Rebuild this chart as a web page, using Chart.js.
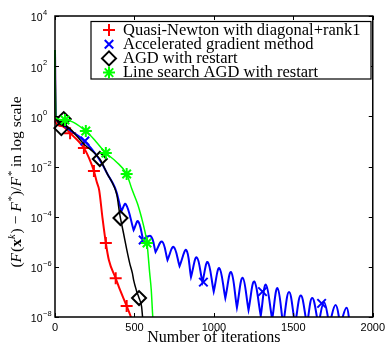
<!DOCTYPE html>
<html>
<head>
<meta charset="utf-8">
<script src="https://cdn.jsdelivr.net/npm/chart.js@4.4.1/dist/chart.umd.min.js"></script>
<style>
  html, body { margin: 0; padding: 0; background: #fff; }
  #wrap { width: 389px; height: 348px; }
</style>
</head>
<body>
<div id="wrap"><canvas id="chart" width="389" height="348"></canvas></div>
<script>
// axis ticks
const xTicks = [0, 500, 1000, 1500, 2000];
const yTicks = [1e-8, 1e-6, 1e-4, 1e-2, 1, 1e2, 1e4];
const yTickExp = ['-8', '-6', '-4', '-2', '0', '2', '4'];

const seriesNames = [
  'Quasi-Newton with diagonal+rank1',
  'Accelerated gradient method',
  'AGD with restart',
  'Line search AGD with restart'
];

// Quasi-Newton with diagonal+rank1 (red)
const qnIter = [0, 3, 40, 100, 182, 215, 245, 263, 278, 299, 320, 339, 382, 410, 451, 480, 490];
const qnVal = [440, 0.59, 0.41, 0.2, 0.0546, 0.021, 6.6e-3, 2.4e-3, 1.15e-3, 8.8e-5, 8.9e-6, 1.86e-6, 3.5e-7, 1.17e-7, 2.75e-8, 9e-9, 5e-9];
const qnMarkIter = [95, 182, 245, 320, 382, 451];
const qnMarkVal = [0.21, 0.0546, 6.6e-3, 8.9e-6, 3.5e-7, 2.75e-8];

// Accelerated gradient method (blue): smooth start, then cusps (dips) and arches (peaks)
const agIter = [0, 5, 50, 188, 282, 330, 378, 408];
const agVal = [440, 0.86, 0.45, 0.1, 0.018, 5e-3, 1.4e-3, 2.9e-4];
const agDipIter = [417, 495, 555, 633, 708, 784, 856, 928, 999, 1072, 1145, 1218, 1295, 1367, 1436, 1511, 1586, 1658, 1727, 1796, 1856];
const agDipVal = [1.6e-4, 2.9e-5, 1.17e-5, 3.9e-6, 1.86e-6, 1.07e-6, 3.9e-7, 2.46e-7, 1.03e-7, 5.7e-8, 2.4e-8, 1.9e-8, 1.12e-8, 8e-9, 5e-9, 5e-9, 5e-9, 5e-9, 5e-9, 5e-9, 5e-9];
const agPeakIter = [445, 523, 602, 674, 746, 826, 892, 961, 1034, 1108, 1181, 1254, 1327, 1400, 1473, 1547, 1619, 1693, 1766, 1835];
const agPeakVal = [3.2e-4, 6.6e-5, 1.7e-5, 1.02e-5, 6.2e-6, 4.7e-6, 2.4e-6, 1.55e-6, 8.9e-7, 6.2e-7, 3.7e-7, 2.6e-7, 1.95e-7, 1.41e-7, 1.0e-7, 7.2e-8, 5.7e-8, 3.9e-8, 3.0e-8, 2.35e-8];
const agMarkIter = [188, 555, 934, 1306, 1678];
const agMarkVal = [0.104, 1.17e-5, 2.46e-7, 1.03e-7, 3.5e-8];

// AGD with restart (black)
const rsIter = [0, 5, 50, 188, 282, 330, 368, 390, 405, 412, 431, 452, 470, 487, 495, 512, 529, 545, 552, 560];
const rsVal = [440, 0.86, 0.45, 0.072, 0.0199, 5e-3, 1.8e-3, 7e-4, 1.6e-4, 8.8e-5, 2.23e-5, 4.7e-6, 1.41e-6, 5.6e-7, 2.95e-7, 1.17e-7, 5.7e-8, 2.6e-8, 9e-9, 5e-9];
const rsMarkIter = [40, 55, 282, 412, 529];
const rsMarkVal = [0.34, 0.78, 0.0199, 8.8e-5, 5.7e-8];

// Line search AGD with restart (green)
const lsIter = [0, 4, 63, 194, 257, 320, 385, 451, 485, 520, 545, 564, 579, 596, 606, 616, 625];
const lsVal = [440, 0.86, 0.71, 0.26, 0.1, 0.0345, 0.0156, 5e-3, 1.2e-3, 3.2e-4, 9e-5, 2.9e-5, 8.9e-6, 5.6e-7, 1.17e-7, 9e-9, 4e-9];
const lsMarkIter = [63, 194, 320, 451, 579];
const lsMarkVal = [0.71, 0.26, 0.0345, 5e-3, 8.9e-6];

const toPoints = (xs, ys) => xs.map((x, i) => ({ x: x, y: ys[i] }));

// blue line: each dip is doubled so the spline makes a sharp cusp there
const agPoints = toPoints(agIter, agVal);
agDipIter.forEach((it, i) => {
  agPoints.push({ x: it, y: agDipVal[i] }, { x: it, y: agDipVal[i] });
  if (i < agPeakIter.length) agPoints.push({ x: agPeakIter[i], y: agPeakVal[i] });
});

const clipArea = { left: 3, top: 0, right: 0, bottom: 0 };

function lineSet(data, color, width, order, smooth) {
  return {
    data: data,
    borderColor: color,
    borderWidth: width,
    pointRadius: 0,
    fill: false,
    order: order,
    clip: clipArea,
    tension: 0.4,
    cubicInterpolationMode: smooth ? 'monotone' : 'default'
  };
}

function markSet(label, data, color, style, radius, order) {
  return {
    label: label,
    data: data,
    showLine: false,
    borderColor: color,
    backgroundColor: 'rgba(0,0,0,0)',
    pointStyle: style,
    pointRadius: radius,
    pointBorderWidth: 2,
    order: order,
    clip: false
  };
}

const markers = [
  markSet(seriesNames[0], toPoints(qnMarkIter, qnMarkVal), '#ff0000', 'cross', 6, 6),
  markSet(seriesNames[1], toPoints(agMarkIter, agMarkVal), '#0000ff', 'crossRot', 6, 4),
  markSet(seriesNames[2], toPoints(rsMarkIter, rsMarkVal), '#000000', 'rectRot', 7, 2),
  markSet(seriesNames[3], toPoints(lsMarkIter, lsMarkVal), '#00ff00', 'star', 6, 0)
];

function drawMarker(ctx, style, x, y, r, color) {
  const d = r * Math.SQRT1_2;
  ctx.save();
  ctx.strokeStyle = color;
  ctx.lineWidth = 2;
  ctx.beginPath();
  if (style === 'cross' || style === 'star') {
    ctx.moveTo(x - r, y); ctx.lineTo(x + r, y);
    ctx.moveTo(x, y - r); ctx.lineTo(x, y + r);
  }
  if (style === 'crossRot' || style === 'star') {
    ctx.moveTo(x - d, y - d); ctx.lineTo(x + d, y + d);
    ctx.moveTo(x - d, y + d); ctx.lineTo(x + d, y - d);
  }
  if (style === 'rectRot') {
    ctx.moveTo(x - r, y); ctx.lineTo(x, y - r); ctx.lineTo(x + r, y); ctx.lineTo(x, y + r);
    ctx.closePath();
  }
  ctx.stroke();
  ctx.restore();
}

// box, inward ticks, y labels with exponents, y title, legend
const matlabAxes = {
  id: 'matlabAxes',
  afterDraw(chart) {
    const { ctx, chartArea: a } = chart;
    const xs = chart.scales.x, ys = chart.scales.y;
    ctx.save();
    ctx.strokeStyle = '#000';
    ctx.lineWidth = 1.5;
    ctx.strokeRect(a.left, a.top, a.right - a.left, a.bottom - a.top);

    ctx.lineWidth = 1;
    ctx.beginPath();
    xTicks.forEach(v => {
      const px = Math.round(xs.getPixelForValue(v)) + 0.5;
      ctx.moveTo(px, a.bottom); ctx.lineTo(px, a.bottom - 4);
      ctx.moveTo(px, a.top); ctx.lineTo(px, a.top + 4);
    });
    yTicks.forEach(v => {
      const py = Math.round(ys.getPixelForValue(v)) + 0.5;
      ctx.moveTo(a.left, py); ctx.lineTo(a.left + 4, py);
      ctx.moveTo(a.right, py); ctx.lineTo(a.right - 4, py);
    });
    ctx.stroke();

    // y tick labels: "10" plus raised exponent
    ctx.fillStyle = '#000';
    ctx.textBaseline = 'middle';
    yTicks.forEach((v, i) => {
      const py = ys.getPixelForValue(v);
      ctx.font = '10.5px "Liberation Sans", Arial, sans-serif';
      ctx.textAlign = 'right';
      ctx.fillText('10', 42.5, py + 2.5);
      ctx.font = '7.5px "Liberation Sans", Arial, sans-serif';
      ctx.textAlign = 'left';
      ctx.fillText(yTickExp[i].replace('-', '\u2212'), 43, py - 3);
    });

    // y axis title
    const size = 15.5, sup = 10.5;
    const parts = [
      ['(', ''], ['F', 'italic '], ['(', ''], ['x', 'bold '], ['k', 'italic ', 1],
      [')', ''], [' \u2212 ', ''], ['F', 'italic '], ['*', '', 1], [')/', ''],
      ['F', 'italic '], ['*', '', 1], [' in log scale', '']
    ];
    const fontOf = p => p[1] + (p[2] ? sup : size) + 'px "Liberation Serif", "Times New Roman", serif';
    let total = 0;
    parts.forEach(p => { ctx.font = fontOf(p); total += ctx.measureText(p[0]).width + (p[1] === 'italic ' ? 1 : 0); });
    ctx.translate(16, 182);
    ctx.rotate(-Math.PI / 2);
    ctx.textAlign = 'left';
    ctx.textBaseline = 'alphabetic';
    let cx = -total / 2;
    parts.forEach(p => {
      ctx.font = fontOf(p);
      ctx.fillText(p[0], cx, p[2] ? -1 : 5);
      cx += ctx.measureText(p[0]).width + (p[1] === 'italic ' ? 1 : 0);
    });
    ctx.setTransform(1, 0, 0, 1, 0, 0);

    // legend
    const lx = 91, ly = 21.5, lw = 280, lh = 57.5;
    ctx.fillStyle = '#fff';
    ctx.fillRect(lx, ly, lw, lh);
    ctx.lineWidth = 1.2;
    ctx.strokeRect(lx, ly, lw, lh);
    ctx.font = '16.5px "Liberation Serif", "Times New Roman", serif';
    ctx.fillStyle = '#000';
    ctx.textAlign = 'left';
    ctx.textBaseline = 'alphabetic';
    markers.forEach((m, i) => {
      const rowY = 30 + i * 14.2;
      drawMarker(ctx, m.pointStyle, 109, rowY, m.pointRadius, m.borderColor);
      ctx.fillText(m.label, 123, rowY + 4.5);
    });
    ctx.restore();
  }
};

new Chart(document.getElementById('chart'), {
  type: 'line',
  data: {
    datasets: [
      markers[3], lineSet(toPoints(lsIter, lsVal), '#00ff00', 1.5, 1, true),
      markers[2], lineSet(toPoints(rsIter, rsVal), '#000000', 1.5, 3, true),
      markers[1], lineSet(agPoints, '#0000ff', 2, 5, false),
      markers[0], lineSet(toPoints(qnIter, qnVal), '#ff0000', 2, 7, true)
    ]
  },
  options: {
    responsive: false,
    animation: false,
    devicePixelRatio: 1,
    layout: { padding: { top: 16, right: 15, left: 0, bottom: 0 } },
    plugins: { legend: { display: false }, tooltip: { enabled: false } },
    scales: {
      x: {
        type: 'linear',
        min: 0,
        max: 2000,
        afterBuildTicks: s => { s.ticks = xTicks.map(v => ({ value: v })); },
        afterFit: s => { s.height = 31; },
        grid: { display: false, drawTicks: false },
        border: { display: false },
        ticks: {
          color: '#000',
          padding: 4,
          maxRotation: 0,
          callback: v => String(v),
          font: { family: '"Liberation Sans", Arial, sans-serif', size: 11 }
        },
        title: {
          display: true,
          text: 'Number of iterations',
          color: '#000',
          padding: { top: 0, bottom: 1 },
          font: { family: '"Liberation Serif", "Times New Roman", serif', size: 16 }
        }
      },
      y: {
        type: 'logarithmic',
        min: 1e-8,
        max: 1e4,
        afterBuildTicks: s => { s.ticks = yTicks.map(v => ({ value: v })); },
        afterFit: s => { s.width = 55; },
        grid: { display: false, drawTicks: false },
        border: { display: false },
        ticks: { display: false }
      }
    }
  },
  plugins: [matlabAxes]
});
</script>
</body>
</html>
